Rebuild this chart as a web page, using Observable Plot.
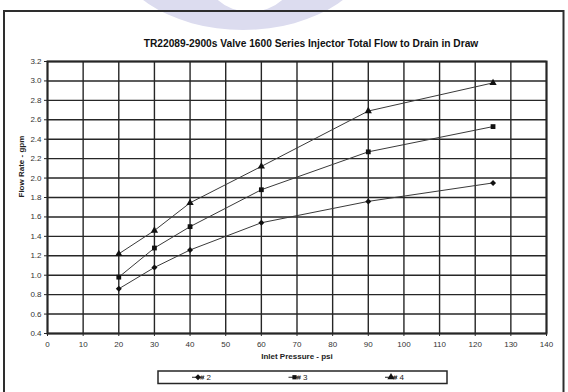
<!DOCTYPE html>
<html>
<head>
<meta charset="utf-8">
<script src="https://cdn.jsdelivr.net/npm/d3@7"></script>
<script src="https://cdn.jsdelivr.net/npm/@observablehq/plot@0.6"></script>
<style>
  html, body { margin: 0; padding: 0; background: #fff; }
  #chart svg { display: block; }
</style>
</head>
<body>
<div id="chart"></div>
<script>
// ---- data ----
const pressures = [20, 30, 40, 60, 90, 125];
const flow2 = [0.86, 1.08, 1.26, 1.54, 1.76, 1.95];
const flow3 = [0.98, 1.28, 1.50, 1.88, 2.27, 2.53];
const flow4 = [1.22, 1.46, 1.745, 2.12, 2.69, 2.98];
const seriesNames = ["# 2", "# 3", "# 4"];
const seriesSymbols = ["diamond2", "square", "triangle"];
const xTicks = [0, 10, 20, 30, 40, 50, 60, 70, 80, 90, 100, 110, 120, 130, 140];
const yTicks = [0.4, 0.6, 0.8, 1.0, 1.2, 1.4, 1.6, 1.8, 2.0, 2.2, 2.4, 2.6, 2.8, 3.0, 3.2];
const titleText = "TR22089-2900s Valve 1600 Series Injector Total Flow to Drain in Draw";
const xLabel = "Inlet Pressure - psi";
const yLabel = "Flow Rate - gpm";

const seriesValues = [flow2, flow3, flow4];
const rows = seriesNames.flatMap((s, i) =>
  pressures.map((p, j) => ({series: s, pressure: p, flow: seriesValues[i][j]}))
);

const ink = "#262626";
const font = "'Liberation Sans', Arial, sans-serif";

const chart = Plot.plot({
  width: 568,
  height: 392,
  marginLeft: 47,
  marginRight: 22,
  marginTop: 61,
  marginBottom: 59,
  style: {fontFamily: font, fontSize: "8px", color: "#333", background: "transparent"},
  x: {domain: [0, 140], ticks: xTicks, label: null},
  y: {domain: [0.4, 3.2], ticks: yTicks, label: null, tickFormat: d => d.toFixed(1)},
  symbol: {domain: seriesNames, range: seriesSymbols},
  marks: [
    Plot.gridX(xTicks, {stroke: ink, strokeOpacity: 1, strokeWidth: 1.4}),
    Plot.gridY(yTicks, {stroke: ink, strokeOpacity: 1, strokeWidth: 1.4}),
    Plot.frame({stroke: ink, strokeWidth: 2}),
    Plot.axisX({ticks: xTicks, tickSize: 3, tickPadding: 5, label: null, stroke: ink}),
    Plot.axisY({ticks: yTicks, tickSize: 3, tickPadding: 3, label: null, tickFormat: d => d.toFixed(1), stroke: ink}),
    Plot.line(rows, {x: "pressure", y: "flow", z: "series", stroke: "#3a3a3a", strokeWidth: 1}),
    Plot.dot(rows, {x: "pressure", y: "flow", symbol: "series", fill: "#111", stroke: "none", r: 2.7}),
    Plot.text([titleText], {frameAnchor: "top", dy: -22, dx: 14, fontWeight: "bold", fontSize: 10.2, fill: "#111"}),
    Plot.text([xLabel], {frameAnchor: "bottom", dy: 25, fontWeight: "bold", fontSize: 8, fill: "#222"}),
    Plot.text([yLabel], {frameAnchor: "left", dx: -26, rotate: -90, fontWeight: "bold", fontSize: 8, fill: "#222"})
  ]
});

const svg = d3.select(chart);

// faint watermark behind everything
svg.insert("path", ":first-child")
  .attr("d", (() => {
    const ell = (cx, cy, rx, ry) =>
      `M${cx - rx},${cy} A${rx},${ry} 0 1,0 ${cx + rx},${cy} A${rx},${ry} 0 1,0 ${cx - rx},${cy} Z`;
    return ell(243, -60, 134, 90) + " " + ell(250, -30, 46, 42);
  })())
  .attr("fill", "#dcdcef")
  .attr("fill-rule", "evenodd");

// outer chart border
svg.append("rect")
  .attr("x", 4).attr("y", 11).attr("width", 559.5).attr("height", 400)
  .attr("fill", "none").attr("stroke", "#2e2e2e").attr("stroke-width", 2);

// legend
const legend = svg.append("g").attr("font-family", font).attr("font-size", 8);
legend.append("rect")
  .attr("x", 158).attr("y", 371).attr("width", 289).attr("height", 12.5)
  .attr("fill", "#fff").attr("stroke", ink).attr("stroke-width", 1.5);
const legendX = [192, 288.5, 385];
const d3Symbols = {diamond2: d3.symbolDiamond2, square: d3.symbolSquare2 || d3.symbolSquare, triangle: d3.symbolTriangle};
seriesNames.forEach((name, i) => {
  const x0 = legendX[i], y0 = 377.25;
  legend.append("line")
    .attr("x1", x0).attr("x2", x0 + 12).attr("y1", y0).attr("y2", y0)
    .attr("stroke", "#222").attr("stroke-width", 1);
  legend.append("path")
    .attr("transform", `translate(${x0 + 6},${y0})`)
    .attr("d", d3.symbol(d3Symbols[seriesSymbols[i]], Math.PI * 2.7 * 2.7)())
    .attr("fill", "#111");
  legend.append("text")
    .attr("x", x0 + 13.5).attr("y", y0).attr("dy", "0.35em")
    .attr("fill", "#222").text(name);
});

document.getElementById("chart").appendChild(chart);
</script>
</body>
</html>
